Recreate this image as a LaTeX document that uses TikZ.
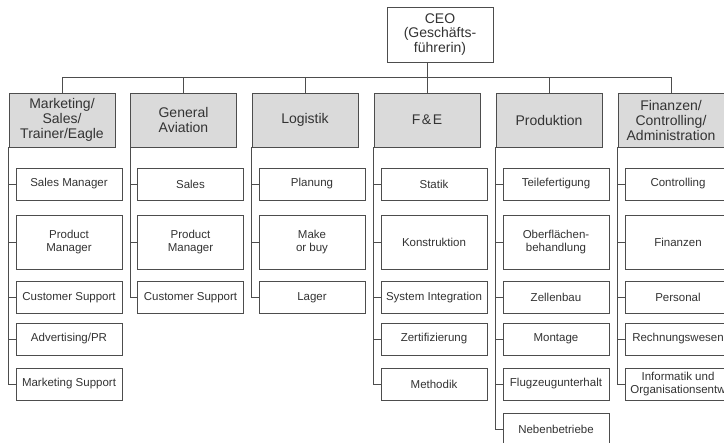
\documentclass[tikz,border=0pt]{standalone}
\usepackage{fontspec}
\setmainfont{Liberation Sans}
\definecolor{ln}{HTML}{4D4D4D}
\definecolor{hd}{HTML}{DADADA}
\definecolor{tx}{HTML}{333333}
\begin{document}
\begin{tikzpicture}[x=1pt,y=-1pt,
  box/.style={draw=ln, line width=0.8pt, inner sep=0pt, minimum width=106pt, align=center, text=tx},
  head/.style={box, fill=hd, minimum height=54pt, font=\fontsize{14}{15}\selectfont},
  ceobox/.style={box, fill=white, minimum height=55pt, font=\fontsize{14}{14.5}\selectfont},
  sub/.style={box, fill=white, minimum height=32pt, font=\fontsize{11.5}{13}\selectfont},
  subb/.style={sub, minimum height=54pt},
  link/.style={draw=ln, line width=0.8pt}]
\useasboundingbox (0,0) rectangle (724,443);
\clip (0,0) rectangle (724,443);
% CEO and headers
\node[ceobox] (ceo) at (440,34.5) {CEO\\(Geschäfts-\\führerin)};
\node[head] (h1) at (62,120) {Marketing/\\Sales/\\Trainer/Eagle};
\node[head] (h2) at (183.5,120) {General\\Aviation};
\node[head] (h3) at (305,120) {Logistik};
\node[head] (h4) at (427,120) {F\kern1.5pt\&\kern1.5pt E};
\node[head] (h5) at (549,120) {Produktion};
\node[head] (h6) at (671,120) {Finanzen/\\Controlling/\\Administration};
\coordinate (bar) at (0,77);
\draw[link] (h1.north) -- (h1.north |- bar) -- (h6.north |- bar) -- (h6.north);
\foreach \h in {h2,h3,h5} \draw[link] (\h.north) -- (\h.north |- bar);
\draw[link] (ceo.south -| h4.north) -- (h4.north);
% column 1
\node[sub]  (c1r1) at (69,184)   {Sales Manager};
\node[subb] (c1r2) at (69,242)   {Product\\Manager};
\node[sub]  (c1r3) at (69,297.5) {Customer Support};
\node[sub]  (c1r4) at (69,339)   {Advertising/PR};
\node[sub]  (c1r5) at (69,384)   {Marketing Support};
% column 2
\node[sub]  (c2r1) at (190.5,184)   {Sales};
\node[subb] (c2r2) at (190.5,242)   {Product\\Manager};
\node[sub]  (c2r3) at (190.5,297.5) {Customer Support};
% column 3
\node[sub]  (c3r1) at (312,184)   {Planung};
\node[subb] (c3r2) at (312,242)   {Make\\or buy};
\node[sub]  (c3r3) at (312,297.5) {Lager};
% column 4
\node[sub]  (c4r1) at (434,184)   {Statik};
\node[subb] (c4r2) at (434,242)   {Konstruktion};
\node[sub]  (c4r3) at (434,297.5) {System Integration};
\node[sub]  (c4r4) at (434,339)   {Zertifizierung};
\node[sub]  (c4r5) at (434,384)   {Methodik};
% column 5
\node[sub]  (c5r1) at (556,184)   {Teilefertigung};
\node[subb] (c5r2) at (556,242)   {Oberflächen-\\behandlung};
\node[sub]  (c5r3) at (556,297.5) {Zellenbau};
\node[sub]  (c5r4) at (556,339)   {Montage};
\node[sub]  (c5r5) at (556,384)   {Flugzeugunterhalt};
\node[sub]  (c5r6) at (556,429)   {Nebenbetriebe};
% column 6
\node[sub]  (c6r1) at (678,184)   {Controlling};
\node[subb] (c6r2) at (678,242)   {Finanzen};
\node[sub]  (c6r3) at (678,297.5) {Personal};
\node[sub]  (c6r4) at (678,339)   {Rechnungswesen};
\node[sub]  (c6r5) at (678,384)   {Informatik und\\Organisationsentw};
% connectors
\draw[link] (h1.south west) |- (c1r5.west);
\foreach \r in {1,...,4} \draw[link] (h1.south west |- c1r\r.west) -- (c1r\r.west);
\draw[link] (h2.south west) |- (c2r3.west);
\foreach \r in {1,2} \draw[link] (h2.south west |- c2r\r.west) -- (c2r\r.west);
\draw[link] (h3.south west) |- (c3r3.west);
\foreach \r in {1,2} \draw[link] (h3.south west |- c3r\r.west) -- (c3r\r.west);
\draw[link] (h4.south west) |- (c4r5.west);
\foreach \r in {1,...,4} \draw[link] (h4.south west |- c4r\r.west) -- (c4r\r.west);
\draw[link] (h5.south west) |- (c5r6.west);
\foreach \r in {1,...,5} \draw[link] (h5.south west |- c5r\r.west) -- (c5r\r.west);
\draw[link] (h6.south west) |- (c6r5.west);
\foreach \r in {1,...,4} \draw[link] (h6.south west |- c6r\r.west) -- (c6r\r.west);
\end{tikzpicture}
\end{document}
